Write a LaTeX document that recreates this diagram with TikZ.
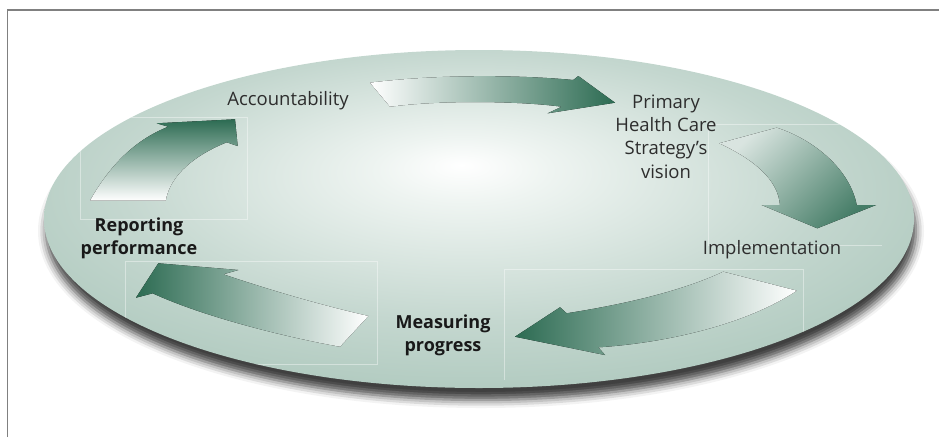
\documentclass[tikz,border=0pt]{standalone}
\usepackage{fontspec}
\setmainfont{Open Sans}
\usetikzlibrary{shadows.blur}
\definecolor{sage}{RGB}{136,174,158}
\definecolor{sagea}{RGB}{161,192,179}
\definecolor{sageb}{RGB}{196,215,207}
\definecolor{sagec}{RGB}{238,244,241}
\definecolor{arrowgreen}{RGB}{44,107,82}
\definecolor{labelgray}{RGB}{45,45,45}
\definecolor{framegray}{RGB}{128,128,128}
\pgfdeclareradialshading{ellshade}{\pgfpoint{-1bp}{8bp}}{color(0bp)=(white); color(5bp)=(sagec); color(20bp)=(sageb); color(37bp)=(sagea); color(50bp)=(sage)}
\tikzset{
  lbl/.style={font=\fontsize{18.5}{23.3}\selectfont, text=labelgray, inner sep=0pt, align=center},
  blbl/.style={font=\fontsize{18}{23.3}\selectfont\bfseries, text=black!90, inner sep=0pt, align=center},
  boxline/.style={draw=white, draw opacity=0.4, line width=0.8pt},
  framerule/.style={draw=framegray, line width=1.5pt}
}
\begin{document}
\begin{tikzpicture}[x=1pt,y=-1pt]
\useasboundingbox (0,0) rectangle (939,437);
% frame
\draw[framerule] (7.5,437) -- (7.5,10) -- (939,10);
% disc
\path[blur shadow={shadow xshift=2pt,shadow yshift=-12pt,shadow blur radius=8pt,shadow opacity=75},
      shading=ellshade] (479,219) ellipse [x radius=435pt, y radius=169pt];
% faint boxes
\begin{scope}
\clip (479,219) ellipse [x radius=435pt, y radius=169pt];
\draw[boxline] (80,117) rectangle (247,219);
\draw[boxline] (882,245) -- (708,245) -- (708,124) -- (882,124);
\draw[boxline] (504,380) -- (504,269) -- (803,269) -- (803,380);
\draw[boxline] (125,261) rectangle (377,364);
\end{scope}
% arrow 1 (reporting -> accountability)
\fill[top color=arrowgreen, bottom color=white]
  (90,200.7) .. controls (110,165) and (135,140) .. (168.3,126.7)
  -- (156.7,123.3) -- (235,119.3) -- (237.7,146) -- (226.7,142.3)
  .. controls (195,155) and (170,175) .. (165.7,200.7) -- cycle;
% arrow 2 (accountability -> vision)
\fill[left color=white, right color=arrowgreen]
  (370,82.7) .. controls (440,74) and (520,75) .. (573.3,80)
  -- (578.3,76) -- (615,102.7) -- (547.7,113.3) -- (561.7,106.7)
  .. controls (520,101) and (440,100) .. (390,106.7) -- cycle;
% arrow 3 (vision -> implementation)
\fill[top color=white!82!arrowgreen, bottom color=arrowgreen!88!white, shading angle=45]
  (719.3,143.3) -- (776.7,127.7)
  .. controls (815,140) and (850,170) .. (856.7,205)
  -- (876,205) -- (817.3,228.3) -- (761.7,205) -- (780,205)
  .. controls (778,180) and (755,160) .. (719.3,143.3) -- cycle;
% arrow 4 (implementation -> measuring)
\fill[left color=arrowgreen, right color=white]
  (723.3,271.7) -- (796.7,290.7)
  .. controls (745,325) and (665,343) .. (598.3,347.3)
  -- (605,355) -- (515,336.7) -- (560,307.3) -- (566.7,313.3)
  .. controls (620,305) and (680,292) .. (723.3,271.7) -- cycle;
% arrow 5 (measuring -> reporting)
\fill[left color=arrowgreen, right color=white]
  (136,297.7) -- (158.3,263.3) -- (238.3,270) -- (223.3,274.3)
  .. controls (270,290) and (320,305) .. (368.3,316)
  -- (340,346.7)
  .. controls (275,335) and (200,315) .. (152.7,293.3) -- cycle;
% labels
\node[lbl] (acc) at (288,101) {Accountability};
\node[lbl] (vision) at (666,136.5) {Primary\\Health Care\\Strategy’s\\vision};
\node[lbl] (impl) at (772,250) {Implementation};
\node[blbl] (rep) at (139,238) {Reporting\\performance};
\node[blbl] (meas) at (443,335) {Measuring\\progress};
\end{tikzpicture}
\end{document}
